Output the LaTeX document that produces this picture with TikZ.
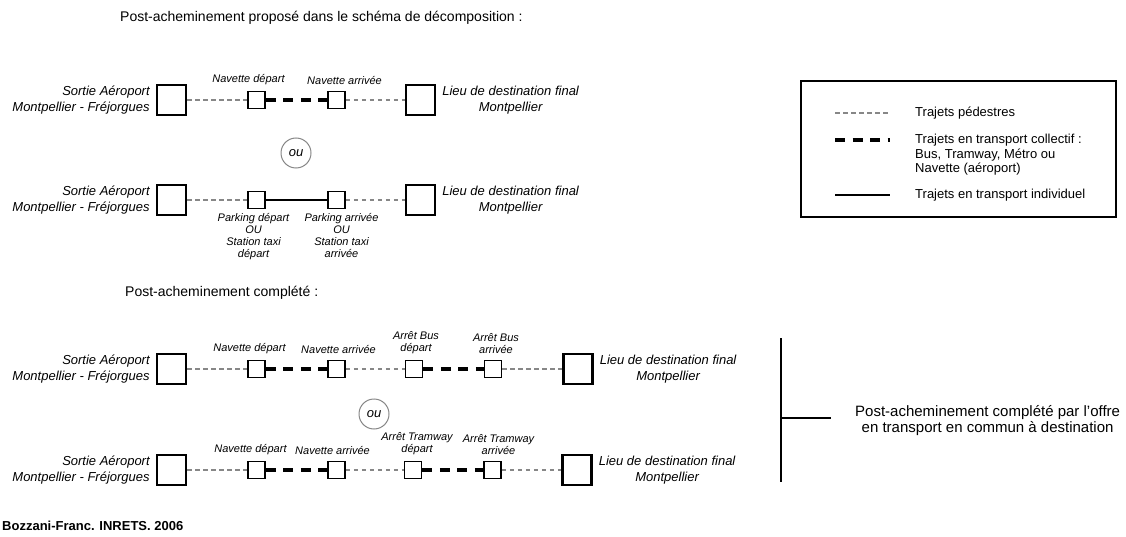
\documentclass[tikz,border=0pt]{standalone}
\usepackage{fontspec}
\setmainfont{Liberation Sans}
\usepackage{tikz}
\usetikzlibrary{positioning}
\definecolor{walkgray}{RGB}{135,135,135}
\tikzset{
    bigbox/.style={rectangle, draw, line width=2.2pt, minimum width=29pt,
                   minimum height=30pt, inner sep=0pt},
    smallbox/.style={rectangle, draw, line width=1.8pt, minimum width=17pt,
                     minimum height=17pt, inner sep=0pt},
    sidetxt/.style={font=\fontsize{13}{16}\selectfont\itshape, inner sep=0pt},
    lbl/.style={font=\fontsize{11}{12}\selectfont\itshape, align=center, inner sep=1pt},
    walk/.style={draw=walkgray, line width=1.1pt, dash pattern=on 4.5pt off 3.5pt},
    transit/.style={line width=4pt, dash pattern=on 10pt off 7.5pt},
    indiv/.style={line width=1.8pt},
    oucirc/.style={circle, draw=walkgray, line width=1pt, minimum size=30pt,
                   inner sep=0pt, font=\fontsize{13}{13}\selectfont\itshape},
    ttl/.style={font=\fontsize{14}{16}\selectfont, inner sep=0pt, anchor=west},
    legtxt/.style={font=\fontsize{13}{14.5}\selectfont, align=left, inner sep=0pt},
}
\begin{document}
\begin{tikzpicture}[x=1pt, y=-1pt, node distance=6pt]
    \useasboundingbox (0,0) rectangle (1126,537);

    \node[ttl] (titre1) at (120,18) {Post-acheminement proposé dans le schéma de décomposition :};

    % ligne 1 : navette
    \node[bigbox] (dep1) at (171.5,100) {};
    \node[sidetxt, align=right, left=of dep1] (dep1txt) {Sortie Aéroport\\Montpellier - Fréjorgues};
    \node[smallbox] (nd1) at (256.5,100) {};
    \node[smallbox] (na1) at (336.5,100) {};
    \node[bigbox] (arr1) at (420.5,100) {};
    \node[sidetxt, align=center, right=of arr1] (arr1txt) {Lieu de destination final\\Montpellier};
    \node[lbl, above=5pt of nd1, xshift=-8pt] (nd1lbl) {Navette départ};
    \node[lbl, above=5pt of na1, xshift=8pt] (na1lbl) {Navette arrivée};
    \draw[walk] (dep1) -- (nd1);
    \draw[transit] (nd1) -- (na1);
    \draw[walk] (na1) -- (arr1);

    \node[oucirc] (ou1) at (296,153) {ou};

    % ligne 2 : parking ou taxi
    \node[bigbox] (dep2) at (171.5,200) {};
    \node[sidetxt, align=right, left=of dep2] (dep2txt) {Sortie Aéroport\\Montpellier - Fréjorgues};
    \node[smallbox] (pd2) at (256.5,200) {};
    \node[smallbox] (pa2) at (336.5,200) {};
    \node[bigbox] (arr2) at (420.5,200) {};
    \node[sidetxt, align=center, right=of arr2] (arr2txt) {Lieu de destination final\\Montpellier};
    \node[lbl, below=3pt of pd2, xshift=-3pt] (pd2lbl) {Parking départ\\OU\\Station taxi\\départ};
    \node[lbl, below=3pt of pa2, xshift=5pt] (pa2lbl) {Parking arrivée\\OU\\Station taxi\\arrivée};
    \draw[walk] (dep2) -- (pd2);
    \draw[indiv] (pd2) -- (pa2);
    \draw[walk] (pa2) -- (arr2);

    \node[ttl] (titre2) at (125,293) {Post-acheminement complété :};

    % ligne 3 : navette + bus
    \node[bigbox] (dep3) at (171.5,369) {};
    \node[sidetxt, align=right, left=of dep3] (dep3txt) {Sortie Aéroport\\Montpellier - Fréjorgues};
    \node[smallbox] (nd3) at (256.5,369) {};
    \node[smallbox] (na3) at (336.5,369) {};
    \node[smallbox] (bd3) at (414,369) {};
    \node[smallbox] (ba3) at (493,369) {};
    \node[bigbox] (arr3) at (578,369) {};
    \node[sidetxt, align=center, right=of arr3] (arr3txt) {Lieu de destination final\\Montpellier};
    \node[lbl, above=5pt of nd3, xshift=-7pt] (nd3lbl) {Navette départ};
    \node[lbl, above=5pt of na3, xshift=2pt] (na3lbl) {Navette arrivée};
    \node[lbl, above=5pt of bd3, xshift=2pt] (bd3lbl) {Arrêt Bus\\départ};
    \node[lbl, above=5pt of ba3, xshift=3pt] (ba3lbl) {Arrêt Bus\\arrivée};
    \draw[walk] (dep3) -- (nd3);
    \draw[transit] (nd3) -- (na3);
    \draw[walk] (na3) -- (bd3);
    \draw[transit] (bd3) -- (ba3);
    \draw[walk] (ba3) -- (arr3);

    \node[oucirc] (ou2) at (374,414) {ou};

    % ligne 4 : navette + tramway
    \node[bigbox] (dep4) at (171.5,470) {};
    \node[sidetxt, align=right, left=of dep4] (dep4txt) {Sortie Aéroport\\Montpellier - Fréjorgues};
    \node[smallbox] (nd4) at (256.5,470) {};
    \node[smallbox] (na4) at (336.5,470) {};
    \node[smallbox] (td4) at (413,470) {};
    \node[smallbox] (ta4) at (492.5,470) {};
    \node[bigbox] (arr4) at (577,470) {};
    \node[sidetxt, align=center, right=of arr4] (arr4txt) {Lieu de destination final\\Montpellier};
    \node[lbl, above=5pt of nd4, xshift=-6pt] (nd4lbl) {Navette départ};
    \node[lbl, above=5pt of na4, xshift=-4pt] (na4lbl) {Navette arrivée};
    \node[lbl, above=5pt of td4, xshift=4pt] (td4lbl) {Arrêt Tramway\\départ};
    \node[lbl, above=5pt of ta4, xshift=6pt] (ta4lbl) {Arrêt Tramway\\arrivée};
    \draw[walk] (dep4) -- (nd4);
    \draw[transit] (nd4) -- (na4);
    \draw[walk] (na4) -- (td4);
    \draw[transit] (td4) -- (ta4);
    \draw[walk] (ta4) -- (arr4);

    % accolade
    \coordinate (bhaut) at (781,338);
    \coordinate (bbas) at (781,482);
    \coordinate (bmil) at (781,418);
    \coordinate (bdroite) at (831,418);
    \draw[indiv] (bhaut) -- (bbas);
    \draw[indiv] (bmil) -- (bdroite);
    \node[font=\fontsize{15}{16}\selectfont, align=center, inner sep=0pt,
          right=24pt of bdroite, yshift=-3pt] (bilan) {Post-acheminement complété par l'offre\\en transport en commun à destination};

    % legende
    \node[draw, line width=1.8pt, minimum width=315pt, minimum height=136pt,
          inner sep=0pt] (legende) at (958.5,149) {};
    \coordinate (lg1a) at (835,113);
    \coordinate (lg1b) at (890,113);
    \coordinate (lg2a) at (835,140);
    \coordinate (lg2b) at (890,140);
    \coordinate (lg3a) at (835,195);
    \coordinate (lg3b) at (890,195);
    \draw[walk] (lg1a) -- (lg1b);
    \draw[transit] (lg2a) -- (lg2b);
    \draw[indiv] (lg3a) -- (lg3b);
    \node[legtxt, anchor=west] (lt1) at (915,113) {Trajets pédestres};
    \node[legtxt, anchor=north west] (lt2) at (915,134) {Trajets en transport collectif :\\Bus, Tramway, Métro ou\\Navette (aéroport)};
    \node[legtxt, anchor=west] (lt3) at (915,195) {Trajets en transport individuel};

    \node[font=\fontsize{13}{13}\selectfont\bfseries, anchor=west, inner sep=0pt] (source) at (2,526) {Bozzani-Franc. INRETS. 2006};
\end{tikzpicture}
\end{document}
